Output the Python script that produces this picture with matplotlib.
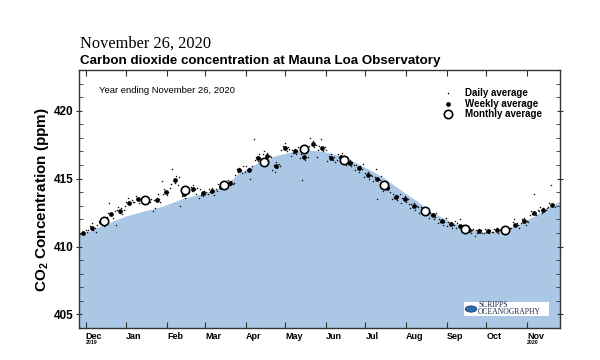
import numpy as np
import matplotlib
matplotlib.use("Agg")
import matplotlib.pyplot as plt
from matplotlib.patches import Rectangle, Circle

plt.rcParams["mathtext.fontset"] = "custom"
plt.rcParams["mathtext.rm"] = "Liberation Sans:bold"
plt.rcParams["mathtext.bf"] = "Liberation Sans:bold"

# day offsets are counted from 2019-11-26
start = np.datetime64("2019-11-26")

# smoothed seasonal curve (upper edge of the blue area)
curve_day = [0, 18, 36, 50, 62, 81, 92, 110, 122, 138, 150, 163, 173, 186,
             198, 211, 221, 234, 244, 257, 267, 277, 290, 305, 320, 335, 351, 366]
curve_ppm = [410.80, 411.58, 412.26, 412.63, 412.92, 413.60, 413.85, 414.41,
             415.43, 416.28, 416.70, 417.00, 417.13, 417.00, 416.70, 416.16,
             415.67, 414.94, 414.21, 413.36, 412.63, 412.10, 411.53, 411.05,
             411.10, 411.66, 412.50, 413.36]

# monthly averages
month_day = [19, 50, 81, 110, 141, 171, 202, 232, 263, 294, 324]
month_ppm = [411.9, 413.4, 414.16, 414.55, 416.2, 417.18, 416.35, 414.53,
             412.63, 411.29, 411.24]

# weekly averages
week_day = [3, 10, 17, 24, 31, 38, 45, 52, 59, 66, 73, 80, 87, 94, 101, 108,
            115, 122, 129, 136, 143, 150, 157, 164, 171, 178, 185, 192, 199,
            206, 213, 220, 227, 234, 241, 248, 255, 262, 269, 276, 283, 290,
            297, 304, 311, 318, 325, 332, 339, 346, 353, 360]
week_ppm = [410.99, 411.34, 411.80, 412.36, 412.65, 413.24, 413.48, 413.40,
            413.43, 414.04, 414.89, 413.85, 414.21, 413.94, 414.07, 414.40,
            414.65, 415.62, 415.67, 416.50, 416.64, 415.91, 417.23, 417.04,
            416.60, 417.52, 417.23, 416.52, 416.60, 416.16, 415.80, 415.26,
            414.99, 414.34, 413.68, 413.48, 412.95, 412.70, 412.31, 411.85,
            411.63, 411.53, 411.24, 411.12, 411.15, 411.22, 411.24, 411.60,
            411.88, 412.46, 412.70, 413.04]

# daily averages, one row per week (days -3..+3 around the weekly point)
daily_rows = [
    [410.8, 410.9, 411.1, 411.0, 410.9, 411.2, 411.1],
    [411.2, 411.5, 411.3, 411.7, 411.2, 411.4, 411.1],
    [411.6, 411.9, 411.7, 412.0, 411.8, 411.5, 412.1],
    [412.2, 412.5, 413.2, 412.3, 412.4, 412.1, 412.6],
    [411.6, 412.7, 412.9, 412.5, 412.8, 412.4, 412.7],
    [413.0, 413.3, 413.6, 413.2, 413.1, 413.4, 413.3],
    [413.3, 413.7, 413.5, 413.6, 413.2, 413.5, 413.4],
    [413.3, 413.5, 413.2, 413.6, 413.4, 413.3, 413.5],
    [412.6, 413.4, 412.8, 413.6, 413.9, 413.5, 413.3],
    [414.8, 413.9, 414.2, 414.1, 413.8, 414.0, 414.3],
    [414.6, 415.7, 415.0, 414.7, 415.2, 414.5, 415.1],
    [413.0, 413.7, 414.1, 413.9, 413.6, 414.0, 414.3],
    [414.0, 414.4, 414.1, 414.5, 414.2, 413.9, 414.3],
    [413.6, 414.2, 413.8, 413.7, 414.1, 413.9, 414.0],
    [413.9, 414.2, 414.0, 414.3, 414.1, 413.8, 414.2],
    [414.1, 414.6, 414.3, 414.5, 414.2, 414.7, 414.4],
    [414.3, 414.9, 414.7, 414.5, 414.8, 414.6, 414.7],
    [415.3, 415.7, 415.5, 415.8, 415.6, 415.4, 415.9],
    [415.5, 415.9, 415.6, 415.8, 415.0, 415.7, 415.9],
    [417.9, 416.4, 416.6, 416.3, 416.8, 416.5, 416.4],
    [416.8, 417.0, 416.5, 416.9, 416.3, 416.7, 416.6],
    [415.6, 416.0, 415.5, 416.2, 415.8, 416.1, 415.9],
    [417.1, 417.4, 417.2, 417.6, 417.0, 417.3, 417.2],
    [416.7, 417.1, 416.9, 417.2, 416.8, 417.0, 417.3],
    [416.5, 416.8, 414.9, 416.7, 416.4, 416.9, 416.6],
    [417.4, 418.0, 417.6, 417.8, 417.3, 417.5, 416.6],
    [417.1, 417.4, 417.9, 417.2, 417.0, 417.3, 417.1],
    [416.3, 416.7, 416.5, 416.8, 416.4, 416.6, 416.2],
    [416.4, 416.8, 416.6, 416.5, 416.9, 416.3, 416.7],
    [416.0, 416.3, 416.1, 416.4, 415.9, 416.2, 416.0],
    [415.6, 416.0, 415.8, 415.5, 415.9, 415.7, 416.1],
    [415.1, 415.4, 415.2, 415.5, 415.0, 415.3, 415.2],
    [414.8, 415.1, 415.7, 413.5, 415.0, 414.9, 415.2],
    [414.1, 414.5, 414.3, 414.6, 414.2, 414.4, 414.0],
    [413.5, 413.9, 413.6, 413.8, 413.4, 413.7, 413.9],
    [413.2, 413.6, 413.4, 413.7, 413.3, 413.5, 413.1],
    [412.8, 413.1, 412.9, 413.2, 412.7, 413.0, 412.9],
    [412.5, 412.9, 412.6, 412.8, 412.4, 412.7, 412.6],
    [412.1, 412.5, 412.3, 412.4, 412.0, 412.2, 412.5],
    [411.7, 412.0, 411.8, 411.9, 411.6, 411.8, 412.1],
    [411.5, 411.8, 411.6, 411.7, 411.4, 411.6, 411.9],
    [411.4, 411.7, 411.5, 412.0, 411.3, 411.6, 411.5],
    [411.1, 411.4, 411.2, 411.3, 411.0, 411.2, 411.3],
    [410.8, 411.2, 411.0, 411.3, 411.1, 411.2, 411.0],
    [411.0, 411.3, 411.1, 411.2, 411.0, 411.2, 411.1],
    [411.1, 411.3, 411.2, 411.4, 411.0, 411.2, 411.3],
    [411.1, 411.4, 411.2, 411.3, 411.1, 411.2, 411.4],
    [411.4, 411.8, 412.0, 411.5, 411.7, 411.6, 411.4],
    [411.7, 412.0, 411.8, 412.1, 411.6, 411.9, 411.8],
    [412.3, 412.6, 412.4, 413.9, 412.5, 412.3, 412.7],
    [412.6, 412.9, 412.5, 412.8, 412.6, 412.7, 412.8],
    [412.9, 413.2, 414.5, 413.0, 413.1, 412.9],
]

month_ticks = ["2019-12-01", "2020-01-01", "2020-02-01", "2020-03-01",
               "2020-04-01", "2020-05-01", "2020-06-01", "2020-07-01",
               "2020-08-01", "2020-09-01", "2020-10-01", "2020-11-01"]
month_labels = ["Dec", "Jan", "Feb", "Mar", "Apr", "May", "Jun", "Jul",
                "Aug", "Sep", "Oct", "Nov"]

fill_color = "#aac8e6"
sans = "Liberation Sans"


def to_dates(days):
    return start + np.array(days, dtype="timedelta64[D]")


daily_x, daily_y = [], []
for wd, row in zip(week_day, daily_rows):
    for k, v in enumerate(row):
        daily_x.append(wd - 3 + k)
        daily_y.append(v)

fig = plt.figure(figsize=(6, 3.6), dpi=100)
ax = fig.add_axes([0.1317, 0.0889, 0.8016, 0.7167])

ax.fill_between(to_dates(curve_day), 404, curve_ppm, color=fill_color,
                linewidth=0, zorder=1)
ax.plot(to_dates(daily_x), daily_y, linestyle="none", marker="o",
        markersize=1.1, color="#111111", markeredgewidth=0, zorder=2)
ax.plot(to_dates(week_day), week_ppm, linestyle="none", marker="o",
        markersize=3.4, color="black", markeredgewidth=0, zorder=3)
ax.plot(to_dates(month_day), month_ppm, linestyle="none", marker="o",
        markersize=6, markerfacecolor="white", markeredgecolor="black",
        markeredgewidth=1.2, zorder=4)

ax.set_xlim(start, start + np.timedelta64(366, "D"))
ax.set_ylim(404, 423)

# axes styling
for sp in ax.spines.values():
    sp.set_color("#333333")
    sp.set_linewidth(1.0)

ax.set_xticks([np.datetime64(d) for d in month_ticks])
ax.set_xticklabels(month_labels, ha="left", fontfamily=sans,
                   fontweight="bold", fontsize=6.5)
ax.tick_params(axis="x", direction="in", length=4, width=0.8,
               top=True, bottom=True, pad=3, colors="#333333",
               labelcolor="black")
ax.set_yticks([405, 410, 415, 420])
ax.set_yticks(np.arange(404, 424), minor=True)
ax.set_yticklabels(["405", "410", "415", "420"], fontfamily=sans,
                   fontweight="bold", fontsize=8.5)
ax.tick_params(axis="y", which="major", direction="inout", length=5,
               width=0.8, left=True, right=True, pad=1.5, colors="#333333",
               labelcolor="black")
ax.tick_params(axis="y", which="minor", direction="in", length=3,
               width=0.6, left=True, right=True, colors="#333333")

# year labels under first and last month
xtr = ax.get_xaxis_transform()
ax.text(np.datetime64("2019-12-01"), -0.058, "2019", transform=xtr,
        ha="left", va="center", fontsize=3.8, fontweight="bold",
        fontfamily=sans)
ax.text(np.datetime64("2020-11-01"), -0.058, "2020", transform=xtr,
        ha="left", va="center", fontsize=3.8, fontweight="bold",
        fontfamily=sans)

ax.text(0.042, 0.922, "Year ending November 26, 2020", transform=ax.transAxes,
        ha="left", va="center", fontsize=6.8, fontfamily=sans)

# legend drawn by hand
leg_rows = [("Daily average", 1.1, "black"),
            ("Weekly average", 3.4, "black"),
            ("Monthly average", 6, "white")]
for (label, ms, fc), yy in zip(leg_rows, [0.911, 0.870, 0.829]):
    ax.plot([0.767], [yy], transform=ax.transAxes, marker="o",
            markersize=ms, markerfacecolor=fc, markeredgecolor="black",
            markeredgewidth=1.2 if fc == "white" else 0, clip_on=False)
    ax.text(0.8025, yy, label, transform=ax.transAxes, ha="left",
            va="center", fontsize=7, fontweight="bold", fontfamily=sans)

# Scripps logo box
ax.add_patch(Rectangle((0.80, 0.047), 0.177, 0.053, transform=ax.transAxes,
                       facecolor="white", edgecolor="none", zorder=5))
ax.add_patch(Circle((0.815, 0.0735), 0.012, transform=ax.transAxes,
                    facecolor="#2e6fae", edgecolor="#1c3f6e", linewidth=0.6,
                    zorder=6))
ax.text(0.830, 0.088, "SCRIPPS", transform=ax.transAxes, fontsize=5.5,
        fontfamily="Liberation Serif", color="#1a2a4a", va="center",
        zorder=7)
ax.text(0.830, 0.061, "OCEANOGRAPHY", transform=ax.transAxes, fontsize=5.5,
        fontfamily="Liberation Serif", color="#1a2a4a", va="center",
        zorder=7)

# titles and y label
fig.text(0.1333, 0.867, "November 26, 2020", fontfamily="Liberation Serif",
         fontsize=11.8, ha="left", va="baseline")
fig.text(0.1333, 0.822, "Carbon dioxide concentration at Mauna Loa Observatory",
         fontfamily=sans, fontweight="bold", fontsize=9.6, ha="left",
         va="baseline")
fig.text(0.07, 0.447, r"CO$_{2}$ Concentration (ppm)", rotation=90,
         fontfamily=sans, fontweight="bold", fontsize=11, ha="center",
         va="center")

fig.savefig("out.png", dpi=100)
